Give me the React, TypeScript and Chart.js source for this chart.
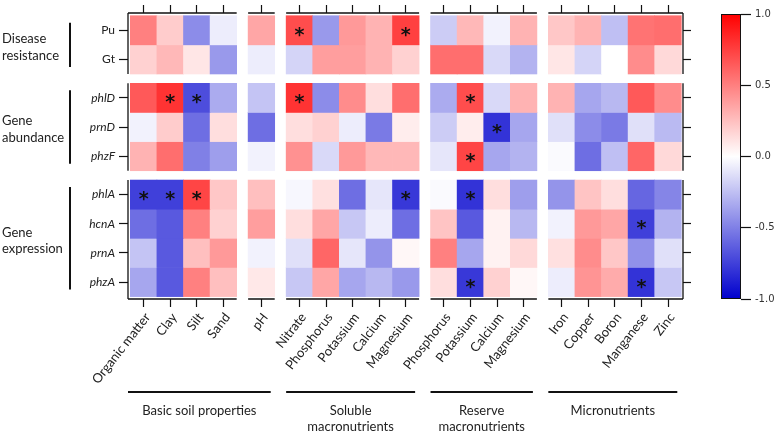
import React, { useEffect, useRef } from 'react';
import { Chart, registerables } from 'chart.js';

Chart.register(...registerables);

// ---------- data ----------
const rowLabels = ['Pu', 'Gt', 'phlD', 'prnD', 'phzF', 'phlA', 'hcnA', 'prnA', 'phzA'];
const rowGroupOf = [0, 0, 1, 1, 1, 2, 2, 2, 2];
const rowGroupLabels = [['Disease', 'resistance'], ['Gene', 'abundance'], ['Gene', 'expression']];

const colLabels = [
  'Organic matter', 'Clay', 'Silt', 'Sand',
  'pH',
  'Nitrate', 'Phosphorus', 'Potassium', 'Calcium', 'Magnesium',
  'Phosphorus', 'Potassium', 'Calcium', 'Magnesium',
  'Iron', 'Copper', 'Boron', 'Manganese', 'Zinc',
];
const colPanelOf = [0, 0, 0, 0, 1, 2, 2, 2, 2, 2, 3, 3, 3, 3, 4, 4, 4, 4, 4];
const colGroupLabels = [['Basic soil properties'], ['Soluble', 'macronutrients'], ['Reserve', 'macronutrients'], ['Micronutrients']];
const colGroupPanels = [[0, 1], [2], [3], [4]];

const valPu = [0.5, 0.2, -0.45, -0.07, 0.35, 0.7, -0.4, 0.4, 0.3, 0.75, -0.2, 0.28, -0.05, 0.3, 0.22, 0.3, -0.25, 0.55, 0.57];
const valGt = [0.18, 0.28, 0.1, -0.4, -0.07, -0.17, 0.38, 0.38, 0.3, 0.18, 0.57, 0.57, -0.15, -0.3, 0.1, -0.17, 0.0, 0.45, 0.15];
const valPhlD = [0.65, 0.8, -0.7, -0.33, -0.23, 0.8, -0.45, 0.45, 0.13, 0.57, -0.33, 0.7, -0.15, 0.3, 0.3, -0.35, -0.28, 0.65, 0.45];
const valPrnD = [-0.05, 0.2, -0.57, 0.13, -0.57, 0.13, 0.18, -0.07, -0.52, 0.07, -0.2, 0.07, -0.8, -0.35, -0.12, -0.45, -0.52, -0.12, -0.27];
const valPhzF = [0.3, 0.57, -0.5, -0.38, -0.05, 0.43, -0.15, 0.4, 0.28, 0.28, -0.1, 0.73, -0.35, -0.3, -0.02, -0.57, -0.25, 0.6, 0.15];
const valPhlA = [-0.75, -0.75, 0.73, 0.22, 0.25, -0.03, 0.12, -0.57, -0.1, -0.78, -0.02, -0.8, 0.13, -0.38, -0.42, 0.23, 0.13, -0.6, -0.48];
const valHcnA = [-0.57, -0.65, 0.5, 0.18, 0.38, 0.13, 0.35, -0.22, -0.07, -0.57, 0.23, -0.65, 0.05, -0.28, -0.05, 0.4, 0.35, -0.75, -0.3];
const valPrnA = [-0.23, -0.65, 0.25, 0.4, -0.05, -0.12, 0.6, -0.1, -0.42, 0.03, 0.5, -0.35, 0.05, 0.15, 0.12, 0.45, 0.22, -0.43, -0.12];
const valPhzA = [-0.35, -0.65, 0.5, 0.25, 0.09, -0.22, 0.35, -0.35, -0.28, -0.4, 0.13, -0.78, 0.18, 0.03, -0.07, 0.42, 0.33, -0.8, -0.22];
const rowValues = [valPu, valGt, valPhlD, valPrnD, valPhzF, valPhlA, valHcnA, valPrnA, valPhzA];

// significant cells (column indices) per row
const sigPu = [5, 9];
const sigGt: number[] = [];
const sigPhlD = [1, 2, 5, 11];
const sigPrnD = [12];
const sigPhzF = [11];
const sigPhlA = [0, 1, 2, 9, 11];
const sigHcnA = [17];
const sigPrnA: number[] = [];
const sigPhzA = [11, 17];
const rowSig = [sigPu, sigGt, sigPhlD, sigPrnD, sigPhzF, sigPhlA, sigHcnA, sigPrnA, sigPhzA];

const cbTicks = [-1, -0.5, 0, 0.5, 1];

// ---------- layout constants ----------
const W = 778;
const H = 433;
const COL_GAP = 0.43;
const ROW_GAP = 0.32;
const LEFT_W = 128;
const RIGHT_W = 95;
const TOP_H = 13;
const BOTTOM_H = 134;

const colPos = colLabels.map((_, i) => i + colPanelOf[i] * COL_GAP);
const rowPos = rowLabels.map((_, i) => i + rowGroupOf[i] * ROW_GAP);
const X_MIN = -0.587;
const X_MAX = colPos[colPos.length - 1] + 0.564;
const Y_MIN = -0.593;
const Y_MAX = rowPos[rowPos.length - 1] + 0.582;

const TEXT = '#222';
const FONT = 'Lato';

function colorFor(v: number): string {
  if (v >= 0) {
    const t = Math.min(1, v);
    const g = Math.round(255 * (1 - t));
    return `rgb(255,${g},${g})`;
  }
  const t = Math.min(1, -v);
  const rg = Math.round(255 * (1 - t));
  const b = Math.round(255 + (205 - 255) * t);
  return `rgb(${rg},${rg},${b})`;
}

const decorPlugin = {
  id: 'decor',
  afterDraw(chart: any) {
    const { ctx, chartArea: a } = chart;
    const xs = chart.scales.x;
    const ys = chart.scales.y;
    ctx.save();
    ctx.strokeStyle = '#111';
    ctx.lineWidth = 1.3;
    // panel border segments top/bottom
    const nPanels = Math.max(...colPanelOf) + 1;
    const panelEdges: number[][] = [];
    for (let p = 0; p < nPanels; p++) {
      const idx = colPanelOf.map((q, i) => (q === p ? i : -1)).filter((i) => i >= 0);
      let l = xs.getPixelForValue(colPos[idx[0]] - 0.5);
      let r = xs.getPixelForValue(colPos[idx[idx.length - 1]] + 0.5);
      panelEdges.push([l, r]);
      if (p === 0) l = a.left;
      if (p === nPanels - 1) r = a.right;
      ctx.beginPath();
      ctx.moveTo(l, a.top);
      ctx.lineTo(r, a.top);
      ctx.moveTo(l, a.bottom);
      ctx.lineTo(r, a.bottom);
      ctx.stroke();
    }
    // row group segments left/right
    const nGroups = rowGroupLabels.length;
    for (let g = 0; g < nGroups; g++) {
      const idx = rowGroupOf.map((q, i) => (q === g ? i : -1)).filter((i) => i >= 0);
      const ct = ys.getPixelForValue(rowPos[idx[0]] - 0.5);
      const cb = ys.getPixelForValue(rowPos[idx[idx.length - 1]] + 0.5);
      const t = g === 0 ? a.top : ct;
      const b = g === nGroups - 1 ? a.bottom : cb;
      ctx.beginPath();
      ctx.moveTo(a.left, t);
      ctx.lineTo(a.left, b);
      ctx.moveTo(a.right, t);
      ctx.lineTo(a.right, b);
      ctx.stroke();
      // bracket + label on the left
      ctx.lineWidth = 2;
      ctx.beginPath();
      ctx.moveTo(70, ct + 7);
      ctx.lineTo(70, cb - 7);
      ctx.stroke();
      ctx.lineWidth = 1.3;
      const cy = (ct + cb) / 2;
      ctx.fillStyle = TEXT;
      ctx.font = `13px ${FONT}`;
      ctx.textAlign = 'left';
      ctx.textBaseline = 'middle';
      const lines = rowGroupLabels[g];
      lines.forEach((s, k) => {
        ctx.fillText(s, 2, cy + (k - (lines.length - 1) / 2) * 16.5 + 2.5);
      });
    }
    // bottom group lines + labels
    colGroupLabels.forEach((lines, gi) => {
      const panels = colGroupPanels[gi];
      let l = panelEdges[panels[0]][0];
      const r = panelEdges[panels[panels.length - 1]][1] - 4;
      if (gi === 0) l = a.left;
      const yLine = a.bottom + 93;
      ctx.lineWidth = 1.8;
      ctx.beginPath();
      ctx.moveTo(l, yLine);
      ctx.lineTo(r, yLine);
      ctx.stroke();
      ctx.fillStyle = TEXT;
      ctx.font = `13px ${FONT}`;
      ctx.textAlign = 'center';
      ctx.textBaseline = 'middle';
      lines.forEach((s, k) => {
        ctx.fillText(s, (l + r) / 2, yLine + 19 + k * 16);
      });
    });
    // stars
    ctx.fillStyle = '#111';
    ctx.font = 'bold 19px "DejaVu Sans"';
    ctx.textAlign = 'center';
    ctx.textBaseline = 'alphabetic';
    const m = ctx.measureText('*');
    const off = (m.actualBoundingBoxAscent - m.actualBoundingBoxDescent) / 2;
    rowSig.forEach((cols, ri) => {
      cols.forEach((ci) => {
        const px = xs.getPixelForValue(colPos[ci]);
        const py = ys.getPixelForValue(rowPos[ri]);
        ctx.fillText('*', px, py + off + 1.5);
      });
    });
    ctx.restore();
  },
};

export default function App() {
  const mainRef = useRef<HTMLCanvasElement>(null);
  const cbRef = useRef<HTMLCanvasElement>(null);

  useEffect(() => {
    const setColTicks = (s: any) => {
      s.ticks = colPos.map((value) => ({ value }));
    };
    const setRowTicks = (s: any) => {
      s.ticks = rowPos.map((value) => ({ value }));
    };
    const tickGrid = (len: number) => ({
      display: true,
      drawOnChartArea: false,
      drawTicks: true,
      tickLength: len,
      tickColor: '#111',
      tickWidth: 1.2,
      color: '#111',
      offset: false,
    });

    const datasets = rowLabels.map((r, ri) => ({
      label: r,
      data: rowValues[ri].map((v, ci) => ({ x: colPos[ci], y: [rowPos[ri] - 0.5, rowPos[ri] + 0.5], v })),
      backgroundColor: (c: any) => colorFor(c.raw ? c.raw.v : 0),
      borderWidth: 0,
      barPercentage: 1,
      categoryPercentage: 1,
      grouped: false,
    }));

    const main = new Chart(mainRef.current as HTMLCanvasElement, {
      type: 'bar',
      data: { datasets } as any,
      options: {
        responsive: false,
        animation: false,
        devicePixelRatio: 1,
        layout: { padding: 0 },
        plugins: { legend: { display: false }, tooltip: { enabled: false } },
        scales: {
          x: {
            type: 'linear',
            position: 'bottom',
            min: X_MIN,
            max: X_MAX,
            offset: false,
            grid: tickGrid(8),
            border: { display: false },
            ticks: {
              autoSkip: false,
              minRotation: 52,
              maxRotation: 52,
              padding: 3,
              labelOffset: 4,
              color: TEXT,
              font: { family: FONT, size: 13 },
              callback: (_v: any, i: number) => colLabels[i],
            },
            afterBuildTicks: setColTicks,
            afterFit: (s: any) => {
              s.height = BOTTOM_H;
            },
          },
          x2: {
            type: 'linear',
            axis: 'x',
            position: 'top',
            min: X_MIN,
            max: X_MAX,
            offset: false,
            grid: tickGrid(8),
            border: { display: false },
            ticks: { display: false },
            afterBuildTicks: setColTicks,
            afterFit: (s: any) => {
              s.height = TOP_H;
            },
          },
          y: {
            type: 'linear',
            position: 'left',
            reverse: true,
            min: Y_MIN,
            max: Y_MAX,
            offset: false,
            grid: tickGrid(9),
            border: { display: false },
            ticks: {
              padding: 4,
              color: TEXT,
              font: (c: any) => ({ family: FONT, size: 12, style: rowGroupOf[c.index] > 0 ? 'italic' : 'normal' }),
              callback: (_v: any, i: number) => rowLabels[i],
            },
            afterBuildTicks: setRowTicks,
            afterFit: (s: any) => {
              s.width = LEFT_W;
            },
          },
          y2: {
            type: 'linear',
            axis: 'y',
            position: 'right',
            reverse: true,
            min: Y_MIN,
            max: Y_MAX,
            offset: false,
            grid: tickGrid(8),
            border: { display: false },
            ticks: { display: false },
            afterBuildTicks: setRowTicks,
            afterFit: (s: any) => {
              s.width = RIGHT_W;
            },
          },
        },
      } as any,
      plugins: [decorPlugin],
    });

    const cb = new Chart(cbRef.current as HTMLCanvasElement, {
      type: 'bar',
      data: {
        labels: [''],
        datasets: [
          {
            data: [[cbTicks[0], cbTicks[cbTicks.length - 1]]],
            backgroundColor: (c: any) => {
              const a = c.chart.chartArea;
              if (!a) return '#fff';
              const g = c.chart.ctx.createLinearGradient(0, a.bottom, 0, a.top);
              g.addColorStop(0, colorFor(-1));
              g.addColorStop(0.5, '#ffffff');
              g.addColorStop(1, colorFor(1));
              return g;
            },
            borderColor: '#111',
            borderWidth: 1.3,
            borderSkipped: false,
            barPercentage: 1,
            categoryPercentage: 1,
          },
        ],
      } as any,
      options: {
        responsive: false,
        animation: false,
        devicePixelRatio: 1,
        layout: { padding: { left: 21, right: 0, top: 14, bottom: 134 } },
        plugins: { legend: { display: false }, tooltip: { enabled: false } },
        scales: {
          x: { display: false },
          y: {
            position: 'right',
            min: -1,
            max: 1,
            grid: { drawOnChartArea: false, tickLength: 10, tickColor: '#111', tickWidth: 1.2 },
            border: { display: false },
            ticks: {
              padding: 4,
              color: '#333',
              font: { family: 'DejaVu Sans', size: 10 },
              callback: (v: any) => Number(v).toFixed(1),
            },
            afterBuildTicks: (s: any) => {
              s.ticks = cbTicks.map((value) => ({ value }));
            },
            afterFit: (s: any) => {
              s.width = 37;
            },
          },
        },
      } as any,
    });

    return () => {
      main.destroy();
      cb.destroy();
    };
  }, []);

  return (
    <div style={{ position: 'absolute', left: 0, top: 0, width: W, height: H, background: '#fff' }}>
      <canvas ref={mainRef} width={W} height={H} style={{ position: 'absolute', left: 0, top: 0 }} />
      <canvas ref={cbRef} width={78} height={H} style={{ position: 'absolute', left: 700, top: 0 }} />
    </div>
  );
}
